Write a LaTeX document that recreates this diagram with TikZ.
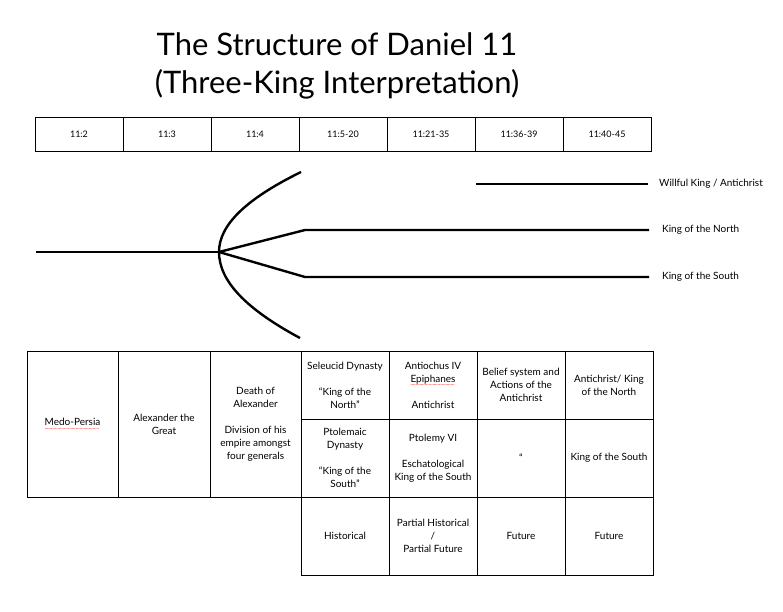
\documentclass[tikz,border=0pt]{standalone}
\usepackage{fontspec}
\setmainfont{Lato}
\usepackage{xcolor}
\usepackage{tikz}
\usetikzlibrary{positioning}
\newcommand\spellmark[1]{\setbox0\hbox{#1}\rlap{\color{red}\raisebox{-3.5pt}{\hbox to \wd0{\fontsize{6}{6}\selectfont\leaders\hbox to 1.3pt{\hss.\hss}\hfill}}}\box0}

\begin{document}
\begin{tikzpicture}[
  x=1pt, y=-1pt,
  title/.style={font=\fontsize{31}{38}\selectfont, align=center},
  verse/.style={draw, outer sep=0pt, minimum width=88pt, minimum height=34pt, inner sep=0pt, font=\fontsize{9}{10}\selectfont},
  cell/.style={draw, outer sep=0pt, inner sep=0pt, align=center, font=\fontsize{10}{13}\selectfont},
  king/.style={anchor=west, inner sep=0pt, font=\fontsize{10}{11}\selectfont},
  branch/.style={line width=2.4pt}
]
\useasboundingbox (0,0) rectangle (783,611);

\node[title] (head) at (337,66) {The Structure of Daniel 11\\(Three-King Interpretation)};

\node[verse] (v1) at (79,134) {11:2};
\node[verse, right=0pt of v1] (v2) {11:3};
\node[verse, right=0pt of v2] (v3) {11:4};
\node[verse, right=0pt of v3] (v4) {11:5-20};
\node[verse, right=0pt of v4] (v5) {11:21-35};
\node[verse, right=0pt of v5] (v6) {11:36-39};
\node[verse, right=0pt of v6] (v7) {11:40-45};

\coordinate (start) at (36,252);
\coordinate (fork) at (219,252);
\coordinate (upper) at (301,172);
\coordinate (lower) at (300,338);
\coordinate (northa) at (305,230);
\coordinate (northb) at (649,230);
\coordinate (southa) at (305,277);
\coordinate (southb) at (649,277);
\coordinate (willa) at (476,184);
\coordinate (willb) at (648,184);

\node[king] (willful) at (659,184) {Willful King / Antichrist};
\node[king] (north) at (662,230) {King of the North};
\node[king] (south) at (662,277) {King of the South};

\draw[branch] (start) -- (fork);
\draw[branch] (fork) .. controls (219,225) and (246,199) .. (upper);
\draw[branch] (fork) .. controls (219,281) and (246,309) .. (lower);
\draw[branch] (fork) -- (northa) -- (northb);
\draw[branch] (fork) -- (southa) -- (southb);
\draw[branch] (willa) -- (willb);

\node[cell, minimum width=91pt, minimum height=146pt] (medo) at (72.5,424) {\spellmark{Medo-Persia}};
\node[cell, minimum width=92pt, minimum height=146pt, right=0pt of medo] (alex) {Alexander the\\Great};
\node[cell, minimum width=91pt, minimum height=146pt, right=0pt of alex] (death) {Death of\\Alexander\\[13pt]Division of his\\empire amongst\\four generals};

\node[cell, minimum width=88pt, minimum height=68pt] (seleucid) at (345,385) {Seleucid Dynasty\\[13pt]“King of the\\North”};
\node[cell, minimum width=88pt, minimum height=78pt, below=0pt of seleucid] (ptolemaic) {Ptolemaic\\Dynasty\\[13pt]“King of the\\South”};
\node[cell, minimum width=88pt, minimum height=78pt, below=0pt of ptolemaic] (hist) {Historical};

\node[cell, minimum width=88pt, minimum height=68pt, right=0pt of seleucid] (antiochus) {Antiochus IV\\\spellmark{Epiphanes}\\[13pt]Antichrist};
\node[cell, minimum width=88pt, minimum height=78pt, below=0pt of antiochus] (ptolemy) {Ptolemy VI\\[13pt]Eschatological\\King of the South};
\node[cell, minimum width=88pt, minimum height=78pt, below=0pt of ptolemy] (partial) {Partial Historical\\/\\Partial Future};

\node[cell, minimum width=88pt, minimum height=68pt, right=0pt of antiochus] (belief) {Belief system and\\Actions of the\\Antichrist};
\node[cell, minimum width=88pt, minimum height=78pt, below=0pt of belief] (ditto) {“};
\node[cell, minimum width=88pt, minimum height=78pt, below=0pt of ditto] (fut1) {Future};

\node[cell, minimum width=88pt, minimum height=68pt, right=0pt of belief] (anorth) {Antichrist/ King\\of the North};
\node[cell, minimum width=88pt, minimum height=78pt, below=0pt of anorth] (ksouth) {King of the South};
\node[cell, minimum width=88pt, minimum height=78pt, below=0pt of ksouth] (fut2) {Future};

\end{tikzpicture}
\end{document}
